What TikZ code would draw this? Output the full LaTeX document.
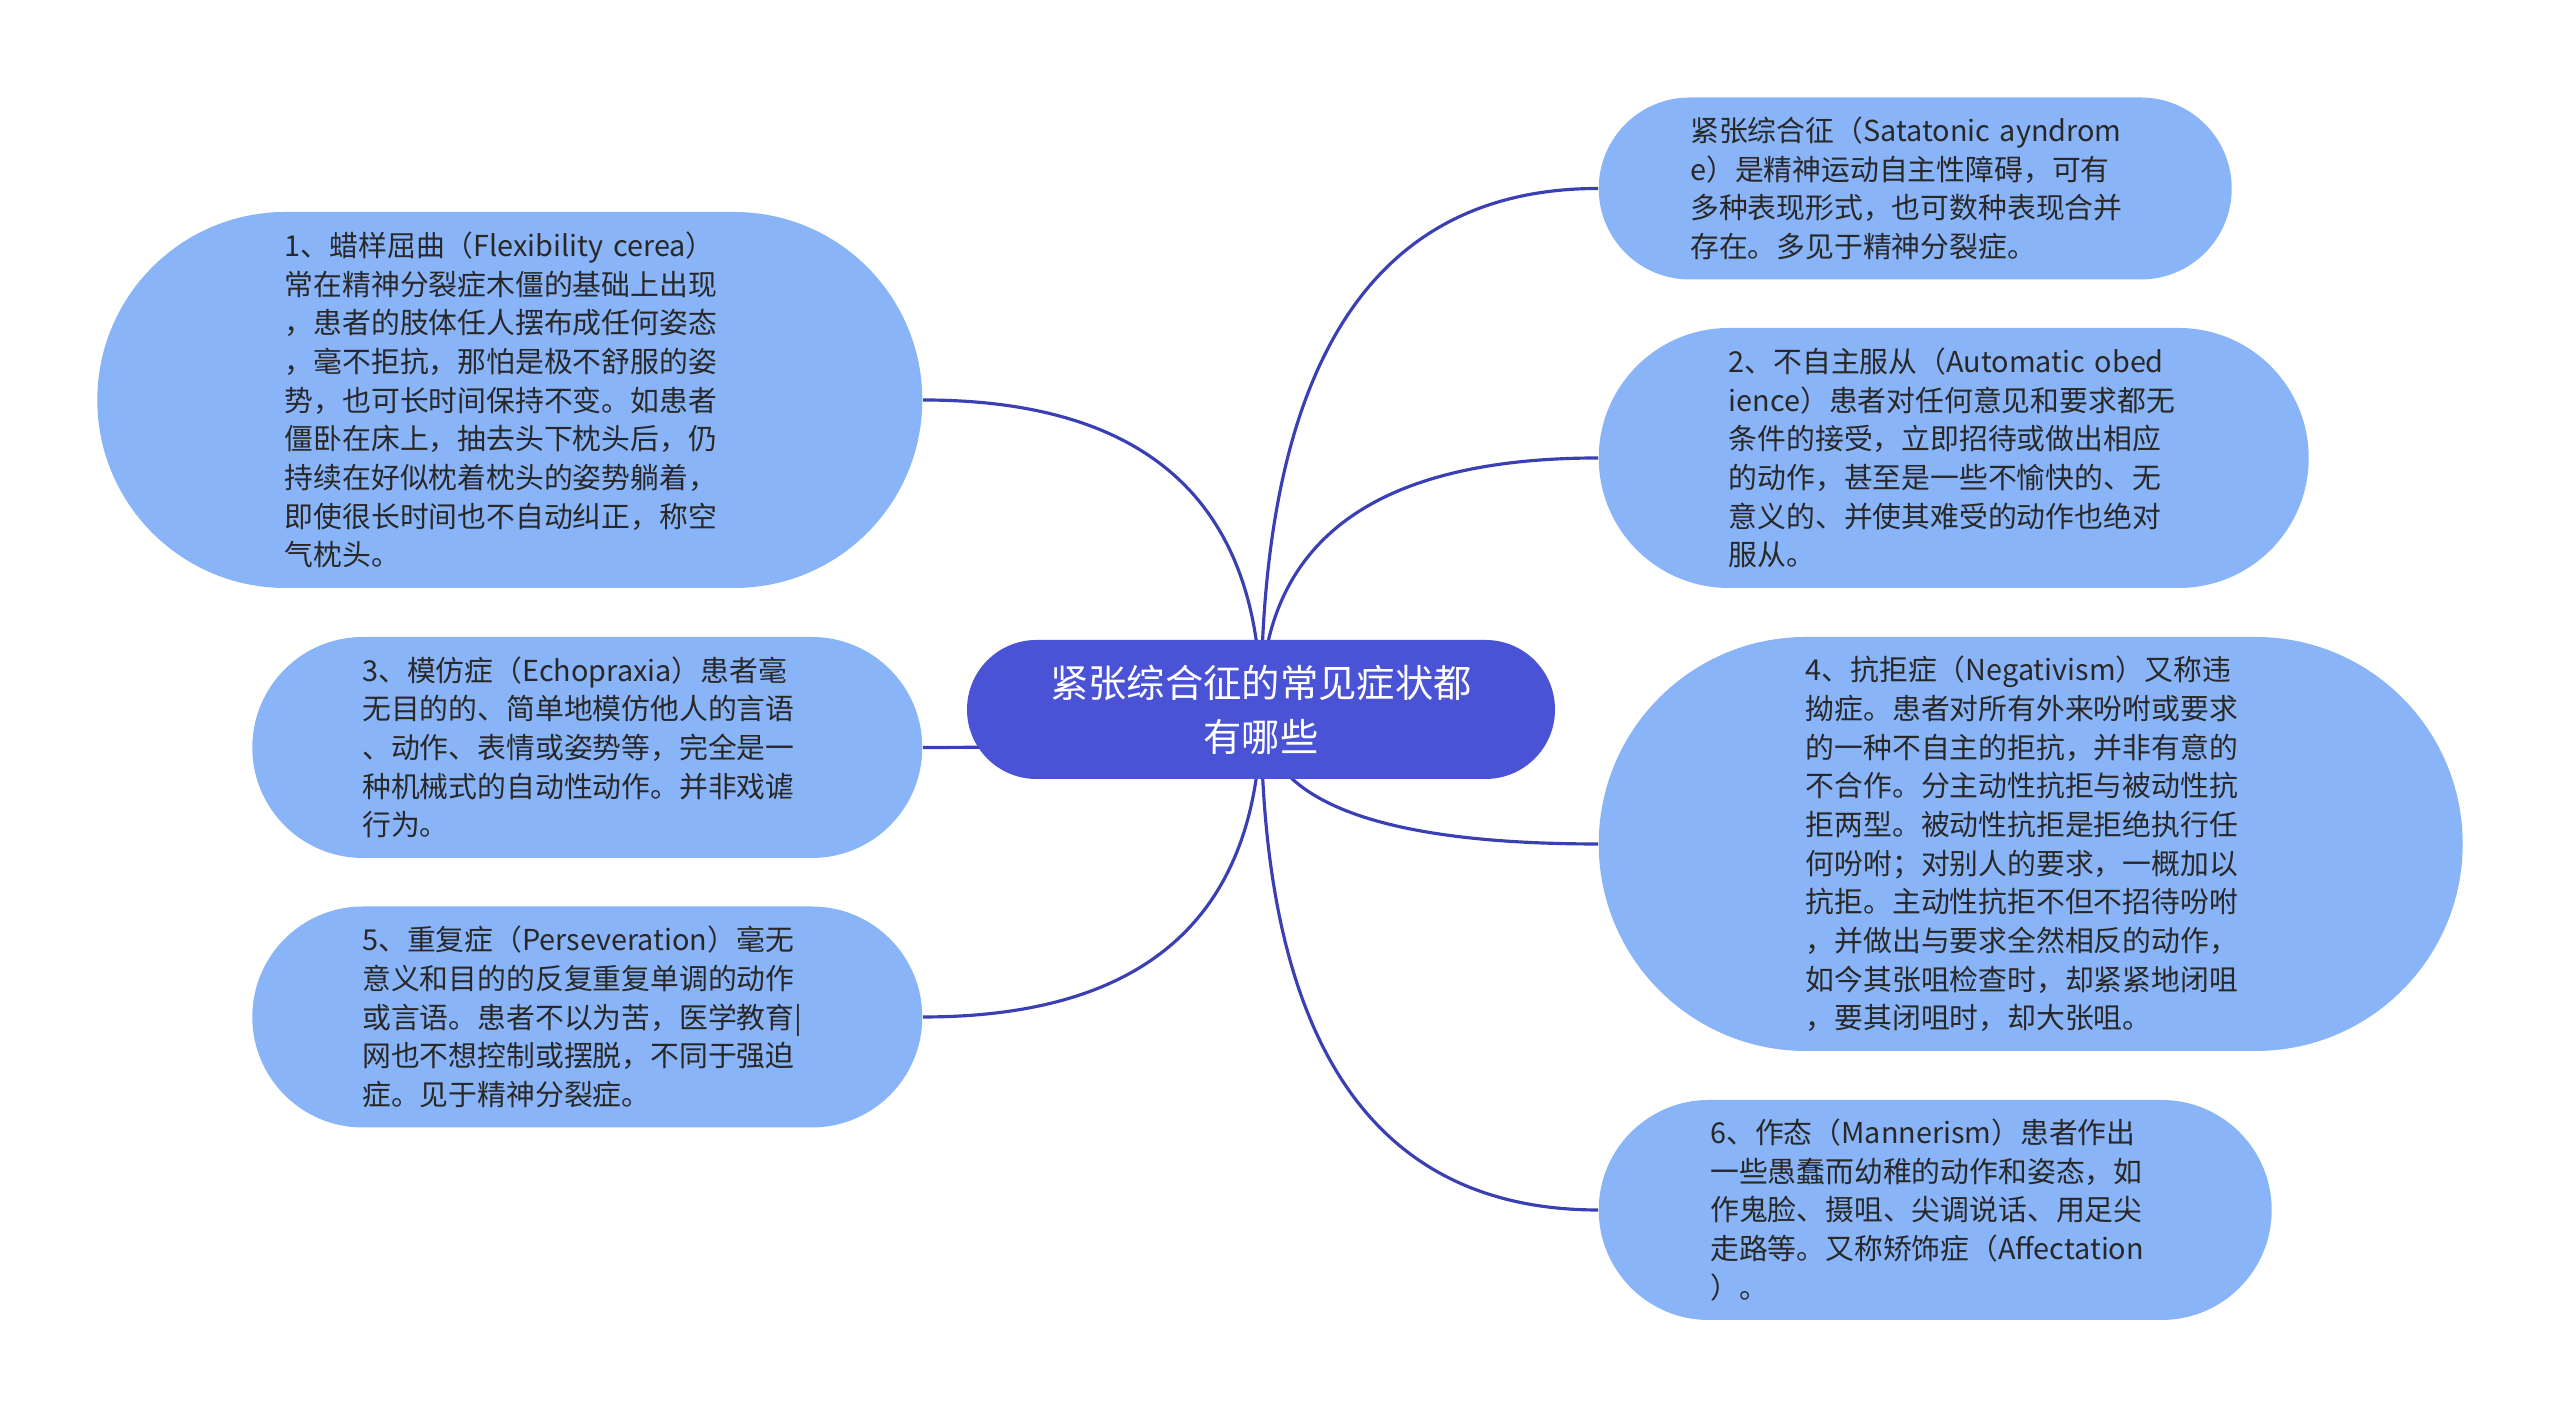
\documentclass[tikz,border=0pt]{standalone}
\usepackage{fontspec}
\setmainfont{Noto Sans CJK SC}
\usetikzlibrary{shapes.misc,calc,backgrounds}
\definecolor{leaf}{RGB}{138,180,248}
\definecolor{root}{RGB}{74,82,214}
\definecolor{wire}{RGB}{58,64,180}
\definecolor{ink}{RGB}{40,40,40}

\begin{document}
\begin{tikzpicture}[
  sub/.style={rounded rectangle,fill=leaf,text=ink,align=left,inner xsep=0pt,text width=4.5cm,font=\fontsize{8.2pt}{11pt}\selectfont},
  topic/.style={rounded rectangle,fill=root,text=white,align=center,inner xsep=0pt,text width=4.5cm,minimum height=1.39cm,minimum width=5.88cm,font=\fontsize{10.9pt}{15.4pt}\selectfont},
  link/.style={draw=wire,line width=0.9pt,to path={.. controls ($(\tikztostart)!0.667!(\tikztostart|-\tikztotarget)$) and ($(\tikztotarget)!0.667!(\tikztostart|-\tikztotarget)$) .. (\tikztotarget)}}]
  \useasboundingbox (0,0) rectangle (25.6,14.18);
  \node[topic] (root) at (12.61,7.085) {紧张综合征的常见症状都\\有哪些};
  % left side
  \node[sub,anchor=east,minimum height=3.76cm,minimum width=8.25cm] (wax) at (9.23,10.18) {1、蜡样屈曲（Flexibility cerea）\\常在精神分裂症木僵的基础上出现\\，患者的肢体任人摆布成任何姿态\\，毫不拒抗，那怕是极不舒服的姿\\势，也可长时间保持不变。如患者\\僵卧在床上，抽去头下枕头后，仍\\持续在好似枕着枕头的姿势躺着，\\即使很长时间也不自动纠正，称空\\气枕头。};
  \node[sub,anchor=east,minimum height=2.21cm,minimum width=6.70cm] (echo) at (9.23,6.705) {3、模仿症（Echopraxia）患者毫\\无目的的、简单地模仿他人的言语\\、动作、表情或姿势等，完全是一\\种机械式的自动性动作。并非戏谑\\行为。};
  \node[sub,anchor=east,minimum height=2.21cm,minimum width=6.70cm] (pers) at (9.23,4.01) {5、重复症（Perseveration）毫无\\意义和目的的反复重复单调的动作\\或言语。患者不以为苦，医学教育|\\网也不想控制或摆脱，不同于强迫\\症。见于精神分裂症。};
  % right side
  \node[sub,anchor=west,minimum height=1.82cm,minimum width=6.33cm] (intro) at (15.98,12.295) {紧张综合征（Satatonic ayndrom\\e）是精神运动自主性障碍，可有\\多种表现形式，也可数种表现合并\\存在。多见于精神分裂症。};
  \node[sub,anchor=west,minimum height=2.60cm,minimum width=7.10cm] (obey) at (15.98,9.60) {2、不自主服从（Automatic obed\\ience）患者对任何意见和要求都无\\条件的接受，立即招待或做出相应\\的动作，甚至是一些不愉快的、无\\意义的、并使其难受的动作也绝对\\服从。};
  \node[sub,anchor=west,minimum height=4.14cm,minimum width=8.64cm] (nega) at (15.98,5.74) {4、抗拒症（Negativism）又称违\\拗症。患者对所有外来吩咐或要求\\的一种不自主的拒抗，并非有意的\\不合作。分主动性抗拒与被动性抗\\拒两型。被动性抗拒是拒绝执行任\\何吩咐；对别人的要求，一概加以\\抗拒。主动性抗拒不但不招待吩咐\\，并做出与要求全然相反的动作，\\如今其张咀检查时，却紧紧地闭咀\\，要其闭咀时，却大张咀。};
  \node[sub,anchor=west,minimum height=2.20cm,minimum width=6.73cm] (mann) at (15.98,2.08) {6、作态（Mannerism）患者作出\\一些愚蠢而幼稚的动作和姿态，如\\作鬼脸、摄咀、尖调说话、用足尖\\走路等。又称矫饰症（Affectation\\）。};
  \begin{scope}[on background layer]
    \draw[link] (root.center) to (wax.east);
    \draw[link] (root.center) to (echo.east);
    \draw[link] (root.center) to (pers.east);
    \draw[link] (root.center) to (intro.west);
    \draw[link] (root.center) to (obey.west);
    \draw[link] (root.center) to (nega.west);
    \draw[link] (root.center) to (mann.west);
  \end{scope}
\end{tikzpicture}
\end{document}
